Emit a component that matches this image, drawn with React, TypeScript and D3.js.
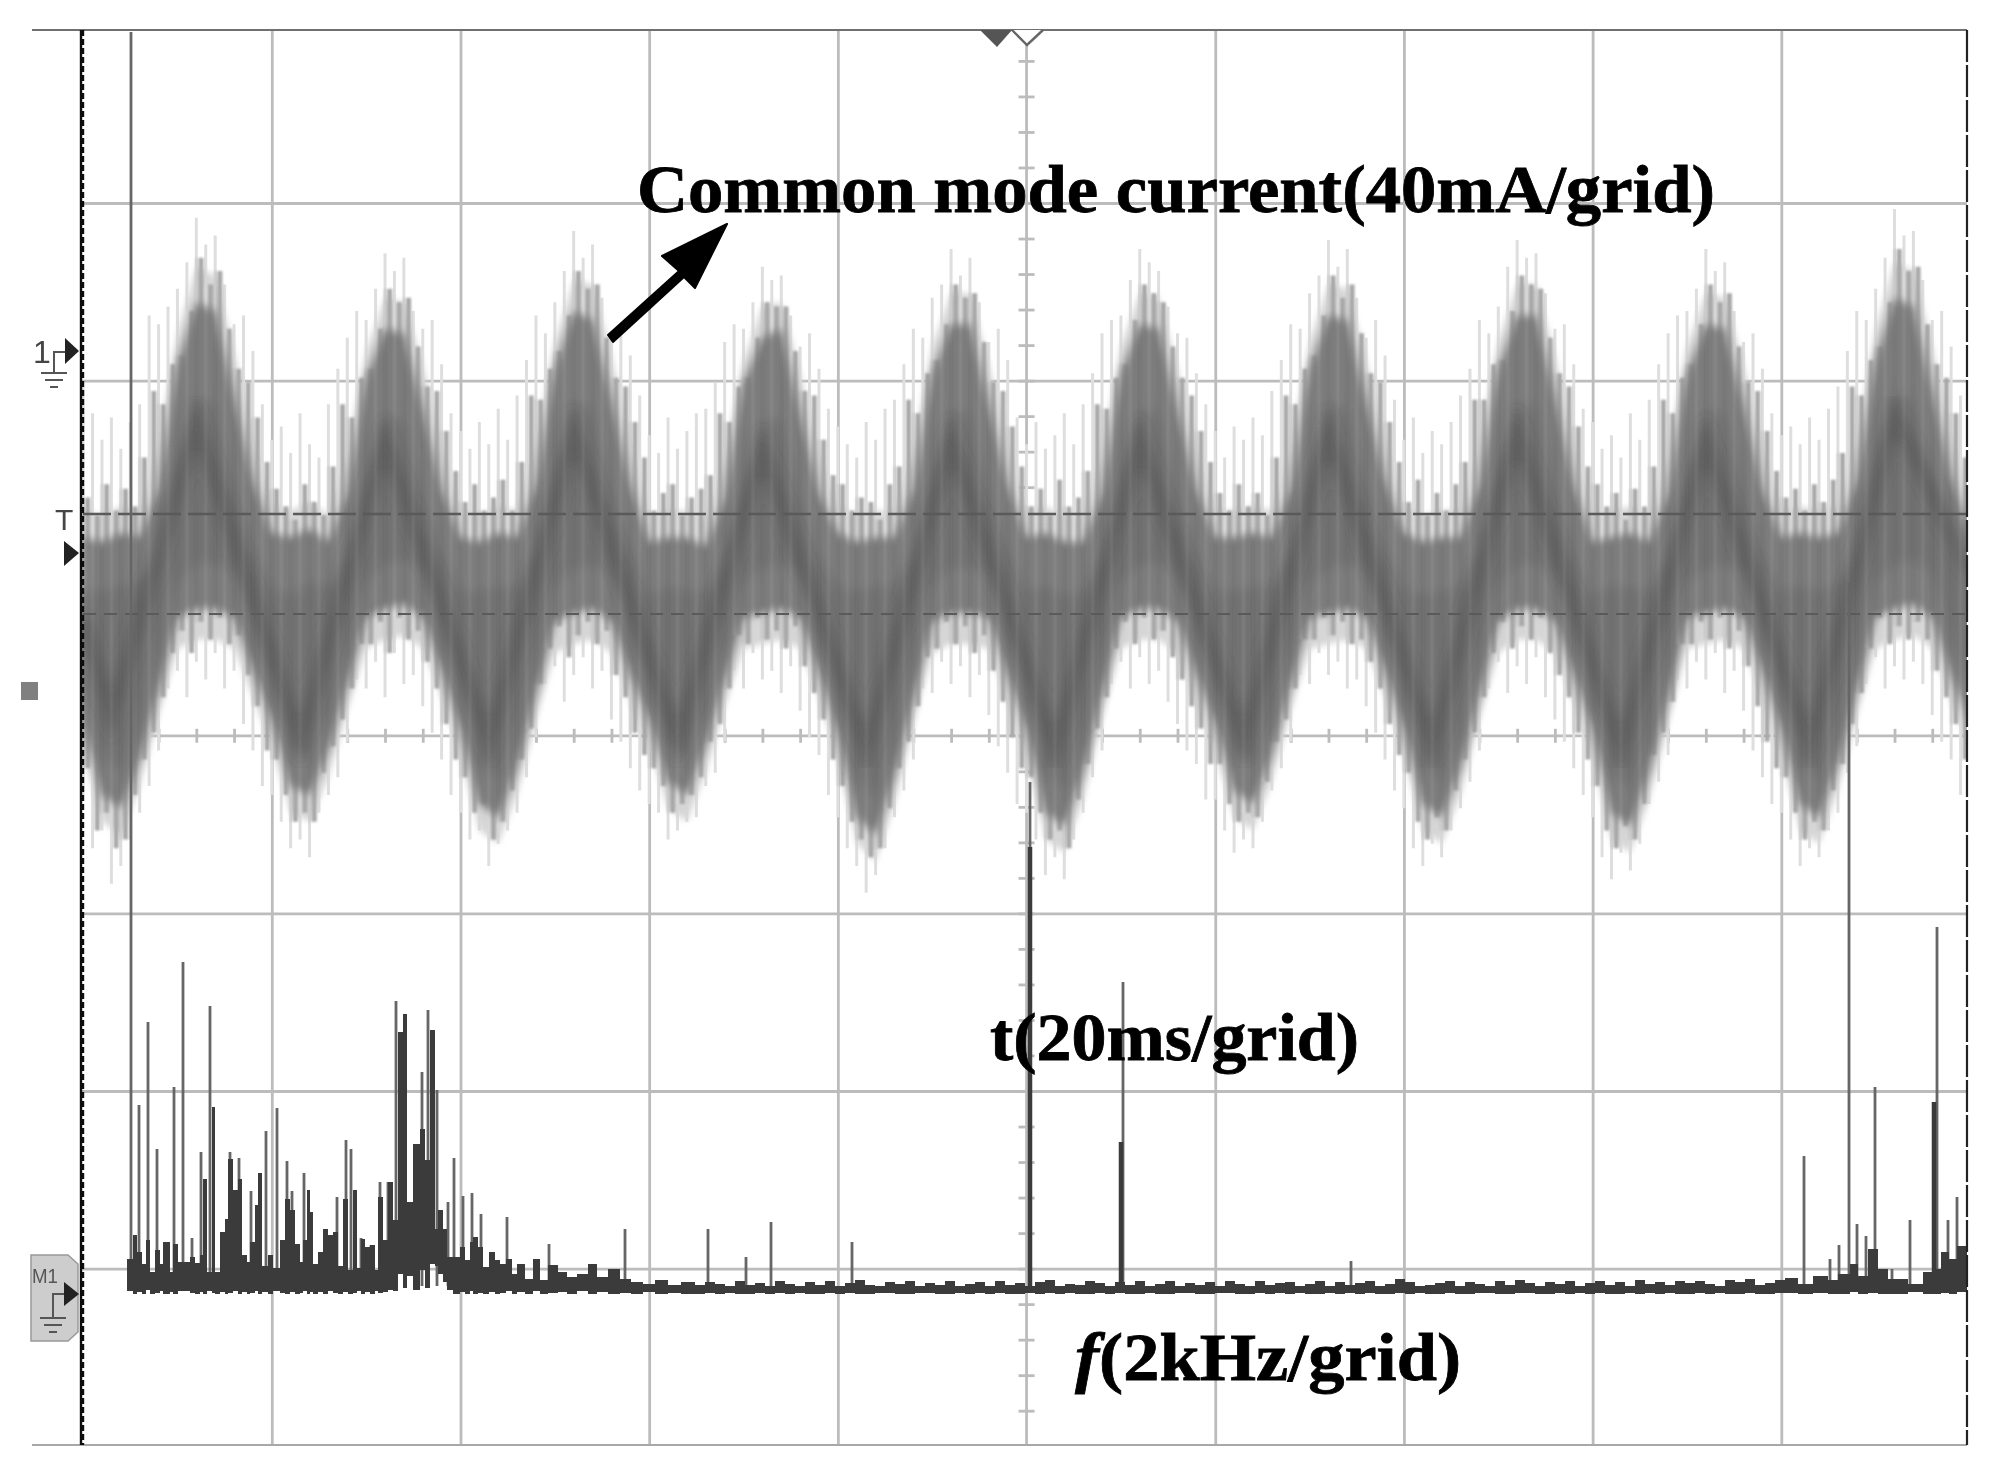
import React, { useEffect, useRef } from 'react';
import * as d3 from 'd3';

// common mode current, mA at 2 ms steps (t = 0..200)
const bodyHi = [
  -42,-43,-41,-42,-31,-3,11,9,-10,-29,
  -41,-42,-40,-43,-32,-6,5,4,-13,-31,
  -42,-43,-41,-42,-30,-4,9,7,-11,-30,
  -43,-42,-42,-44,-33,-7,3,5,-14,-32,
  -41,-43,-42,-42,-31,-5,6,6,-12,-30,
  -42,-41,-43,-43,-32,-5,6,5,-13,-31,
  -42,-42,-41,-42,-31,-4,8,7,-11,-29,
  -41,-43,-42,-42,-30,-4,8,8,-10,-30,
  -43,-42,-41,-43,-32,-5,6,5,-12,-31,
  -42,-41,-42,-41,-29,-2,12,10,-9,-28,
  -41,
];
const bodyLo = [
  -84,-100,-103,-92,-76,-60,-58,-58,-60,-72,
  -83,-98,-100,-90,-75,-60,-58,-57,-60,-72,
  -85,-102,-105,-94,-77,-61,-59,-58,-61,-73,
  -83,-97,-100,-89,-74,-60,-59,-58,-60,-72,
  -86,-105,-109,-96,-78,-61,-59,-59,-60,-73,
  -85,-104,-107,-95,-77,-60,-58,-58,-61,-73,
  -84,-99,-102,-91,-75,-60,-59,-58,-60,-72,
  -85,-102,-105,-94,-77,-61,-58,-58,-61,-73,
  -85,-104,-107,-95,-78,-60,-59,-58,-60,-72,
  -85,-102,-105,-93,-76,-60,-58,-57,-60,-73,
  -84,
];
const coreHi = [
  -54,-54,-53,-52,-46,-26,-10,-12,-30,-44,
  -53,-55,-52,-53,-47,-28,-14,-16,-32,-45,
  -54,-54,-53,-53,-45,-27,-11,-13,-31,-44,
  -55,-53,-54,-54,-48,-29,-16,-15,-33,-46,
  -53,-54,-53,-53,-46,-28,-13,-14,-31,-44,
  -54,-53,-55,-54,-47,-27,-13,-14,-32,-45,
  -54,-54,-53,-53,-46,-27,-12,-13,-30,-44,
  -53,-55,-54,-53,-45,-26,-12,-12,-30,-45,
  -55,-53,-53,-54,-47,-28,-13,-14,-31,-45,
  -54,-53,-54,-52,-45,-25,-9,-11,-29,-43,
  -53,
];
const coreLo = [
  -76,-91,-95,-84,-68,-52,-48,-48,-50,-64,
  -75,-89,-92,-82,-67,-52,-48,-47,-50,-64,
  -77,-93,-97,-86,-69,-53,-49,-48,-51,-65,
  -75,-88,-92,-81,-66,-52,-49,-48,-50,-64,
  -78,-96,-101,-88,-70,-53,-49,-49,-50,-65,
  -77,-95,-99,-87,-69,-52,-48,-48,-51,-65,
  -76,-90,-94,-83,-67,-52,-49,-48,-50,-64,
  -77,-93,-97,-86,-69,-53,-48,-48,-51,-65,
  -77,-95,-99,-87,-70,-52,-49,-48,-50,-64,
  -77,-93,-97,-85,-68,-52,-48,-47,-50,-65,
  -76,
];
const hazeHi = [
  -36,-37,-35,-36,-22,4,19,17,0,-20,
  -35,-36,-34,-37,-24,0,12,11,-3,-22,
  -36,-37,-35,-36,-21,2,16,15,-1,-21,
  -37,-36,-36,-38,-25,-2,10,11,-5,-23,
  -35,-37,-36,-36,-23,1,13,13,-3,-21,
  -36,-35,-37,-37,-24,1,13,12,-4,-22,
  -36,-36,-35,-36,-23,2,15,14,-2,-20,
  -35,-37,-36,-36,-22,2,15,15,-1,-21,
  -37,-36,-35,-37,-24,1,13,12,-3,-22,
  -36,-35,-36,-35,-21,5,20,18,1,-19,
  -35,
];
const hazeLo = [
  -90,-106,-109,-98,-82,-67,-65,-65,-67,-78,
  -89,-104,-106,-96,-81,-67,-65,-64,-67,-78,
  -91,-108,-111,-100,-83,-68,-66,-65,-68,-79,
  -89,-103,-106,-95,-80,-67,-66,-65,-67,-78,
  -92,-111,-115,-102,-84,-68,-66,-66,-67,-79,
  -91,-110,-113,-101,-83,-67,-65,-65,-68,-79,
  -90,-105,-108,-97,-81,-67,-66,-65,-67,-78,
  -91,-108,-111,-100,-83,-68,-65,-65,-68,-79,
  -91,-110,-113,-101,-84,-67,-66,-65,-67,-78,
  -91,-108,-111,-99,-82,-67,-65,-64,-67,-79,
  -90,
];

// tips of the light noise spikes, mA at 1 ms steps
const spikeHi = [
  -8,-14,-20,-15,-22,-16,-12,8,6,10,14,20,30,24,26,15,6,8,0,-12,
  -20,-17,-23,-14,-21,-24,-12,-4,3,9,7,14,22,18,21,9,5,7,-3,-14,
  -18,-22,-16,-21,-13,-20,-10,-2,8,4,11,18,27,21,24,12,3,6,-1,-10,
  -19,-23,-15,-22,-18,-14,-13,-7,2,6,5,11,19,16,17,8,1,4,-4,-13,
  -17,-21,-24,-16,-20,-13,-11,-3,5,3,12,15,23,17,21,11,2,5,-2,-15,
  -21,-16,-22,-19,-14,-21,-12,-5,4,7,8,16,23,20,18,10,4,3,-5,-12,
  -18,-24,-17,-20,-15,-19,-9,-2,6,5,13,17,25,19,23,12,3,7,-1,-11,
  -20,-15,-23,-18,-21,-16,-10,-4,7,4,10,19,25,21,22,13,5,6,-3,-13,
  -16,-22,-19,-24,-14,-20,-11,-3,4,8,9,14,23,18,20,9,2,4,-4,-14,
  -19,-17,-21,-15,-20,-13,-8,0,9,7,14,21,32,26,27,16,7,9,1,-10,
  -16,
];
const spikeLo = [
  -100,-112,-108,-120,-116,-110,-104,-98,-90,-76,-72,-78,-70,-74,-68,-76,-72,-84,-90,-98,
  -100,-106,-112,-110,-114,-104,-100,-96,-88,-74,-76,-70,-78,-68,-75,-73,-80,-86,-92,-100,
  -104,-110,-108,-116,-111,-108,-104,-96,-87,-75,-71,-79,-73,-69,-76,-72,-83,-88,-94,-99,
  -102,-104,-110,-108,-106,-105,-98,-95,-88,-72,-76,-68,-74,-72,-77,-71,-81,-87,-91,-100,
  -105,-112,-116,-122,-118,-112,-105,-99,-92,-76,-77,-70,-75,-71,-78,-73,-82,-89,-95,-102,
  -104,-110,-118,-114,-119,-110,-104,-96,-90,-75,-70,-76,-69,-75,-72,-79,-84,-90,-93,-101,
  -101,-108,-113,-110,-112,-106,-99,-94,-88,-73,-75,-68,-73,-70,-76,-74,-80,-86,-92,-99,
  -103,-112,-116,-111,-114,-108,-103,-97,-90,-76,-70,-77,-71,-75,-69,-78,-83,-88,-94,-100,
  -105,-114,-119,-113,-117,-111,-102,-97,-91,-74,-76,-70,-74,-68,-77,-72,-81,-90,-96,-102,
  -104,-110,-116,-112,-114,-108,-104,-95,-89,-75,-69,-76,-71,-74,-70,-75,-82,-88,-92,-100,
  -104,
];

// darker fringe between the band and the spike tips, offset half a ms
const fringeHi = [
  -33,-37,-30,-36,-31,-35,-24,-9,-12,-3,-1,9,21,15,18,5,-4,-7,-15,-25,
  -31,-35,-38,-30,-34,-37,-26,-12,-15,-6,-4,5,14,11,12,1,-8,-9,-18,-27,
  -34,-30,-36,-33,-29,-36,-25,-10,-11,-4,0,8,18,14,15,3,-6,-8,-16,-24,
  -36,-32,-30,-37,-33,-31,-28,-14,-16,-8,-6,3,11,10,10,0,-9,-10,-20,-28,
  -30,-36,-33,-34,-38,-30,-26,-11,-14,-5,-2,6,15,12,13,2,-7,-9,-17,-26,
  -35,-31,-37,-29,-35,-33,-27,-12,-13,-6,-3,7,15,13,11,1,-6,-10,-18,-25,
  -32,-36,-30,-35,-32,-37,-24,-10,-12,-4,-1,8,17,12,15,4,-5,-7,-16,-25,
  -34,-29,-37,-32,-36,-30,-25,-11,-11,-3,-2,9,17,15,14,3,-5,-8,-17,-26,
  -30,-35,-32,-38,-31,-35,-26,-11,-14,-6,-3,6,15,11,13,1,-7,-9,-18,-27,
  -33,-31,-36,-30,-34,-29,-23,-8,-10,-2,1,11,23,18,19,6,-3,-6,-14,-24,
];
const fringeLo = [
  -94,-108,-104,-112,-110,-100,-92,-86,-78,-68,-63,-68,-61,-65,-60,-66,-64,-73,-80,-90,
  -92,-100,-106,-104,-106,-95,-89,-83,-76,-66,-66,-61,-68,-60,-65,-63,-70,-76,-84,-92,
  -96,-104,-102,-110,-106,-99,-92,-85,-75,-67,-62,-69,-64,-61,-66,-63,-73,-78,-86,-91,
  -94,-98,-104,-102,-100,-96,-88,-84,-76,-64,-66,-60,-65,-63,-67,-62,-71,-77,-83,-92,
  -98,-106,-110,-114,-112,-103,-94,-88,-80,-69,-67,-61,-66,-62,-68,-64,-72,-79,-87,-94,
  -96,-104,-110,-108,-112,-101,-93,-85,-78,-67,-61,-66,-60,-65,-63,-69,-74,-80,-85,-93,
  -93,-102,-106,-104,-105,-97,-88,-83,-76,-65,-65,-60,-64,-61,-66,-65,-70,-76,-84,-91,
  -95,-106,-110,-105,-108,-99,-92,-86,-78,-68,-61,-67,-62,-65,-60,-68,-73,-78,-86,-92,
  -98,-108,-112,-107,-110,-102,-91,-86,-79,-66,-66,-61,-65,-60,-67,-63,-71,-80,-88,-94,
  -96,-104,-110,-106,-108,-99,-93,-84,-77,-67,-60,-66,-62,-65,-61,-65,-72,-78,-84,-92,
];

// dark ridge of the triangular component
const ridgeT = [0,3,12,23,32,43,52,63,72,83,92,103,112,123,132,143,152,163,172,183,192,200];
const ridgeMa = [-60,-82,-16,-88,-20,-88,-18,-88,-22,-90,-20,-90,-20,-88,-18,-89,-18,-90,-20,-89,-14,-50];

// spectrum: bin = 10.6 Hz, level in counts, 177.6 counts per grid
const thinBin = [48,56,65,74,91,100,109,118,127,147,156,168,183,194,204,209,221,254,263,268,278,288,297,305,313,339,345,354,365,371,380,389,398,424,466,542,625,663,688,769,947,1040,1268,1721,1747,1756,1766,1774,1783,1792,1809,1827,1854,1865,1874];
const thinLevel = [1262,189,272,145,207,332,56,142,288,142,136,103,163,186,133,103,121,97,154,145,56,49,112,112,293,222,284,204,92,136,98,101,80,77,50,65,65,37,72,52,512,312,33,138,35,49,712,70,58,207,25,74,367,74,97];
const thickBin = [947,1038,1851];
const thickLevel = [447,152,192];

const floorLeftBin = [
  44,50,54,59,63,67,72,77,80,87,90,95,107,112,117,120,124,129,132,137,142,145,150,155,159,164,167,172,175,179,
  185,190,197,202,207,212,217,220,224,227,230,235,240,245,250,255,260,265,270,274,278,282,287,292,295,300,305,310,315,320,
  324,330,337,342,347,352,355,360,364,370,377,382,387,390,395,400,406,412,417,423,429,434,442,450,457,465,475,484,494,505,
  514,525,537,548,560,572,585,598,612,
];
const floorLeftTop = [
  35,59,42,30,54,22,44,30,52,22,50,32,37,31,39,115,22,187,22,62,75,135,104,115,39,32,52,89,121,28,
  39,26,54,95,84,50,32,54,104,82,30,42,65,59,62,28,95,24,104,26,55,47,49,24,97,54,112,74,262,280,
  92,150,165,134,264,65,84,65,37,37,47,34,52,57,47,27,42,34,30,35,20,30,15,35,14,29,22,17,20,30,
  17,25,15,12,10,14,9,12,9,
];
const floorLeftBottom = [
  3,0,2,0,4,0,1,3,0,2,0,3,1,0,2,0,3,1,0,2,0,1,3,0,2,0,1,3,0,2,
  0,3,1,0,2,0,1,3,0,2,0,2,0,3,1,0,2,0,1,3,0,2,0,3,1,2,4,3,20,6,
  18,4,24,6,30,28,20,12,4,0,2,0,3,0,1,0,2,0,1,3,0,2,0,3,0,1,2,0,3,0,
  2,0,1,0,2,0,1,0,0,
];
// noise floor in the quiet middle, one value every 10 bins from bin 612
const floorMidTop = [
  9,12,10,8,13,9,11,8,13,10,8,12,9,13,8,11,14,9,8,12,10,13,8,11,9,13,8,10,12,8,
  13,9,11,8,12,14,8,10,9,13,11,8,12,9,13,8,10,13,8,11,9,12,8,13,10,8,13,9,11,12,
  8,10,13,8,12,9,11,13,8,10,15,12,8,9,11,13,8,12,10,8,13,9,14,11,8,12,10,13,8,11,
  13,9,12,8,14,10,12,9,13,11,13,10,8,14,12,15,9,11,14,16,
];
const floorMidBottom = [
  0,1,0,1,0,0,1,0,1,0,1,0,0,1,0,1,0,0,1,1,0,0,1,1,0,0,1,0,1,0,
  1,0,0,1,0,1,0,1,0,0,1,0,1,0,0,1,0,0,1,1,0,0,1,1,0,0,1,0,1,0,
  1,0,0,1,0,1,0,1,0,0,1,0,1,0,0,1,0,0,1,1,0,0,1,1,0,0,1,0,1,0,
  1,0,0,1,0,1,0,1,0,0,1,0,1,0,0,1,0,0,1,1,
];
const floorRightBin = [1702,1715,1730,1745,1755,1767,1775,1785,1795,1805,1825,1840,1851,1858,1866,1874,1884];
const floorRightTop = [16,10,18,14,20,30,18,45,25,15,10,22,25,42,35,48,30];
const floorRightBottom = [1,0,1,0,0,2,0,1,0,0,2,0,0,1,0,2,0];

const gridCols = [-4,-3,-2,-1,1,2,3,4];
const gridRows = [-3,-2,-1,1,2,3];

const W = 1998;
const H = 1479;
const frame = { left: 81, right: 1967, top: 30, bottom: 1445 };

export default function App() {
  const ref = useRef<SVGSVGElement>(null);

  useEffect(() => {
    const svg = d3.select(ref.current);
    svg.selectAll('*').remove();

    const divX = d3.scaleLinear().domain([-5, 5]).range([83.1, 1970]);
    const divY = d3.scaleLinear().domain([-4, 4]).range([1446.2, 25.4]);
    const timeX = d3.scaleLinear().domain([0, 200]).range([83.1, 1970]);
    const currentY = d3.scaleLinear().domain([0, 40]).range([351, 173.4]);
    const binX = d3.scaleLinear().domain([0, 1887]).range([83, 1970]);
    const levelY = d3.scaleLinear().domain([0, 1264]).range([1294, 30]);

    const defs = svg.append('defs');
    const blur = (id: string, s: number) =>
      defs.append('filter').attr('id', id).attr('x', '-5%').attr('y', '-5%').attr('width', '110%').attr('height', '110%')
        .append('feGaussianBlur').attr('stdDeviation', s);
    blur('soft', 0.7);
    blur('b1', 1);
    blur('b3', 3);
    blur('b4', 4.5);
    blur('b6', 6);
    blur('b10', 10);
    defs.append('clipPath').attr('id', 'screen').append('rect')
      .attr('x', frame.left).attr('y', frame.top)
      .attr('width', frame.right - frame.left).attr('height', frame.bottom - frame.top);

    const root = svg.append('g').attr('filter', 'url(#soft)');
    root.append('rect').attr('width', W).attr('height', H).attr('fill', '#fff');

    // graticule
    const grid = root.append('g');
    const vAxis = d3.axisBottom(divX).tickValues(gridCols).tickSize(frame.bottom - frame.top).tickFormat(() => '');
    const hAxis = d3.axisLeft(divY).tickValues(gridRows).tickSize(-(frame.right - frame.left)).tickFormat(() => '');
    grid.append('g').attr('transform', `translate(0,${frame.top})`).call(vAxis as any);
    grid.append('g').attr('transform', `translate(${frame.left},0)`).call(hAxis as any);

    // centre lines with their small ticks
    const vTicks = d3.range(-19, 20).map(k => k / 5);
    const hTicks = d3.range(-24, 25).map(k => k / 5);
    const cAxisY = d3.axisLeft(divY).tickValues(vTicks).tickSize(8).tickSizeOuter(0).tickFormat(() => '');
    const cAxisY2 = d3.axisRight(divY).tickValues(vTicks).tickSize(8).tickSizeOuter(0).tickFormat(() => '');
    const cAxisX = d3.axisTop(divX).tickValues(hTicks).tickSize(7).tickSizeOuter(0).tickFormat(() => '');
    const cAxisX2 = d3.axisBottom(divX).tickValues(hTicks).tickSize(7).tickSizeOuter(0).tickFormat(() => '');
    grid.append('g').attr('transform', `translate(${divX(0)},0)`).call(cAxisY as any);
    grid.append('g').attr('transform', `translate(${divX(0)},0)`).call(cAxisY2 as any);
    grid.append('g').attr('transform', `translate(0,${divY(0)})`).call(cAxisX as any);
    grid.append('g').attr('transform', `translate(0,${divY(0)})`).call(cAxisX2 as any);
    grid.selectAll('.domain').remove();
    grid.selectAll('line').attr('stroke', '#bcbcbc').attr('stroke-width', 2.8);
    grid.append('line').attr('x1', divX(0)).attr('x2', divX(0)).attr('y1', frame.top).attr('y2', frame.bottom)
      .attr('stroke', '#bcbcbc').attr('stroke-width', 2.8);
    grid.append('line').attr('x1', frame.left).attr('x2', frame.right).attr('y1', divY(0)).attr('y2', divY(0))
      .attr('stroke', '#bcbcbc').attr('stroke-width', 2.8);
    root.append('line').attr('x1', 32).attr('x2', frame.right).attr('y1', frame.top).attr('y2', frame.top)
      .attr('stroke', '#707070').attr('stroke-width', 2);
    root.append('line').attr('x1', 32).attr('x2', frame.right).attr('y1', frame.bottom).attr('y2', frame.bottom)
      .attr('stroke', '#a8a8a8').attr('stroke-width', 2);

    // waveform
    const wave = root.append('g').attr('clip-path', 'url(#screen)');
    const band = (hi: number[], lo: number[]) =>
      d3.area<number>()
        .x((_, i) => timeX(i * 2))
        .y0((_, i) => currentY(lo[i]))
        .y1((_, i) => currentY(hi[i]))(hi);

    wave.append('g').selectAll('line').data(spikeHi).join('line')
      .attr('x1', (_, i) => timeX(i)).attr('x2', (_, i) => timeX(i))
      .attr('y1', d => currentY(d)).attr('y2', (_, i) => currentY(spikeLo[i]))
      .attr('stroke', '#dedede').attr('stroke-width', 3);

    wave.append('path').attr('d', band(hazeHi, hazeLo)).attr('fill', '#d6d6d6').attr('filter', 'url(#b3)');

    wave.append('g').attr('filter', 'url(#b1)').selectAll('line').data(fringeHi).join('line')
      .attr('x1', (_, i) => timeX(i + 0.5)).attr('x2', (_, i) => timeX(i + 0.5))
      .attr('y1', d => currentY(d)).attr('y2', (_, i) => currentY(fringeLo[i]))
      .attr('stroke', '#a8a8a8').attr('stroke-width', 5);

    wave.append('path').attr('d', band(bodyHi, bodyLo)).attr('fill', '#7c7c7c').attr('filter', 'url(#b4)');
    wave.append('path').attr('d', band(coreHi, coreLo)).attr('fill', '#727272').attr('filter', 'url(#b6)');

    const ridge = d3.line<number>().x((_, i) => timeX(ridgeT[i])).y(d => currentY(d));
    wave.append('path').attr('d', ridge(ridgeMa)).attr('fill', 'none')
      .attr('stroke', '#484848').attr('stroke-width', 15).attr('stroke-opacity', 0.38).attr('filter', 'url(#b6)');

    // streaks inside the band
    wave.append('g').attr('filter', 'url(#b1)').selectAll('line').data(fringeHi).join('line')
      .attr('x1', (_, i) => timeX(i)).attr('x2', (_, i) => timeX(i))
      .attr('y1', d => currentY(d)).attr('y2', (_, i) => currentY(fringeLo[i]))
      .attr('stroke', (_, i) => (i % 2 ? '#ffffff' : '#333333')).attr('stroke-opacity', 0.09).attr('stroke-width', 3);

    // trigger level cursors
    [[514, '28 7', 2.4], [614, '13 8', 2.2]].forEach(([y, dash, sw]) => {
      root.append('line').attr('x1', frame.left + 2).attr('x2', frame.right).attr('y1', y as number).attr('y2', y as number)
        .attr('stroke', '#5a5a5a').attr('stroke-dasharray', dash as string).attr('stroke-width', sw as number);
    });

    // spectrum
    const spec = root.append('g').attr('clip-path', 'url(#screen)');
    spec.append('g').selectAll('line').data(thinBin).join('line')
      .attr('x1', d => binX(d)).attr('x2', d => binX(d))
      .attr('y1', (_, i) => levelY(thinLevel[i])).attr('y2', levelY(8))
      .attr('stroke', '#666').attr('stroke-width', 2.8);
    spec.append('g').selectAll('line').data(thickBin).join('line')
      .attr('x1', d => binX(d)).attr('x2', d => binX(d))
      .attr('y1', (_, i) => levelY(thickLevel[i])).attr('y2', levelY(8))
      .attr('stroke', '#3a3a3a').attr('stroke-width', 4.5);
    const floorPath = (bins: number[], top: number[], bottom: number[]) =>
      d3.area<number>()
        .x(d => binX(d))
        .y0((_, i) => levelY(bottom[i]))
        .y1((_, i) => levelY(top[i]))
        .curve(d3.curveStepAfter)(bins);
    spec.append('path').attr('d', floorPath(floorLeftBin, floorLeftTop, floorLeftBottom)).attr('fill', '#3a3a3a');
    spec.append('path').attr('d', floorPath(d3.range(612, 1712, 10), floorMidTop, floorMidBottom)).attr('fill', '#3a3a3a');
    spec.append('path').attr('d', floorPath(floorRightBin, floorRightTop, floorRightBottom)).attr('fill', '#3a3a3a');

    // frame edges
    root.append('line').attr('x1', frame.left).attr('x2', frame.left).attr('y1', frame.top).attr('y2', frame.bottom)
      .attr('stroke', '#111').attr('stroke-width', 2.4);
    root.append('line').attr('x1', frame.left + 2).attr('x2', frame.left + 2).attr('y1', frame.top).attr('y2', frame.bottom)
      .attr('stroke', '#111').attr('stroke-width', 2.4).attr('stroke-dasharray', '6 3');
    root.append('line').attr('x1', frame.right).attr('x2', frame.right).attr('y1', frame.top).attr('y2', frame.bottom)
      .attr('stroke', '#222').attr('stroke-width', 2.2).attr('stroke-dasharray', '32 3');

    // top markers
    root.append('polygon').attr('points', '980,30 1012,30 997,47').attr('fill', '#555');
    root.append('polyline').attr('points', '1012,30 1027,45 1043,30').attr('fill', '#fff').attr('stroke', '#666').attr('stroke-width', 2.4);

    // left markers
    const ground = (x: number, y: number, gy: number, c: string) => {
      const g = root.append('g').attr('stroke', c).attr('stroke-width', 2).attr('fill', 'none');
      g.append('polyline').attr('points', `${x + 12},${y} ${x},${y} ${x},${gy}`);
      g.append('line').attr('x1', x - 13).attr('x2', x + 13).attr('y1', gy).attr('y2', gy);
      g.append('line').attr('x1', x - 9).attr('x2', x + 9).attr('y1', gy + 7).attr('y2', gy + 7);
      g.append('line').attr('x1', x - 4).attr('x2', x + 4).attr('y1', gy + 14).attr('y2', gy + 14);
    };
    const sans = 'Liberation Sans';
    root.append('text').text('1').attr('x', 33).attr('y', 363).attr('font-family', sans).attr('font-size', 32).attr('fill', '#444');
    ground(54, 352, 373, '#555');
    root.append('polygon').attr('points', '65,338 79,351 65,364').attr('fill', '#222');
    root.append('text').text('T').attr('x', 55).attr('y', 530).attr('font-family', sans).attr('font-size', 30).attr('fill', '#444');
    root.append('polygon').attr('points', '64,541 79,553 64,566').attr('fill', '#222');
    root.append('rect').attr('x', 21).attr('y', 682).attr('width', 17).attr('height', 18).attr('fill', '#808080');

    root.append('path').attr('d', 'M31,1255 H68 L78,1264 V1332 L68,1341 H31 Z').attr('fill', '#cdcdcd').attr('stroke', '#999').attr('stroke-width', 1.5);
    root.append('text').text('M1').attr('x', 32).attr('y', 1283).attr('font-family', sans).attr('font-size', 21)
      .attr('textLength', 26).attr('lengthAdjust', 'spacingAndGlyphs').attr('fill', '#555');
    ground(53, 1294, 1318, '#555');
    root.append('polygon').attr('points', '64,1282 79,1294 64,1306').attr('fill', '#222');

    // annotation
    const serif = 'Liberation Serif';
    const label = (x: number, y: number, len: number, size: number) =>
      root.append('text').attr('x', x).attr('y', y).attr('font-family', serif).attr('font-weight', 'bold')
        .attr('font-size', size).attr('fill', '#000').attr('stroke', '#000').attr('stroke-width', 0.8)
        .attr('textLength', len).attr('lengthAdjust', 'spacingAndGlyphs');
    label(637, 212, 1078, 68).text('Common mode current(40mA/grid)');
    label(990, 1060, 369, 68).text('t(20ms/grid)');
    const fLabel = label(1075, 1380, 386, 68);
    fLabel.append('tspan').attr('font-style', 'italic').text('f');
    fLabel.append('tspan').text('(2kHz/grid)');

    root.append('path')
      .attr('d', 'M727,224 L662,256 L679,271 L608,335 L613,342 L684,277 L695,288 Z')
      .attr('fill', '#000').attr('stroke', '#000').attr('stroke-width', 2).attr('stroke-linejoin', 'round');
  }, []);

  return (
    <div style={{ position: 'absolute', left: 0, top: 0 }}>
      <svg ref={ref} width={W} height={H} style={{ display: 'block' }} />
    </div>
  );
}
